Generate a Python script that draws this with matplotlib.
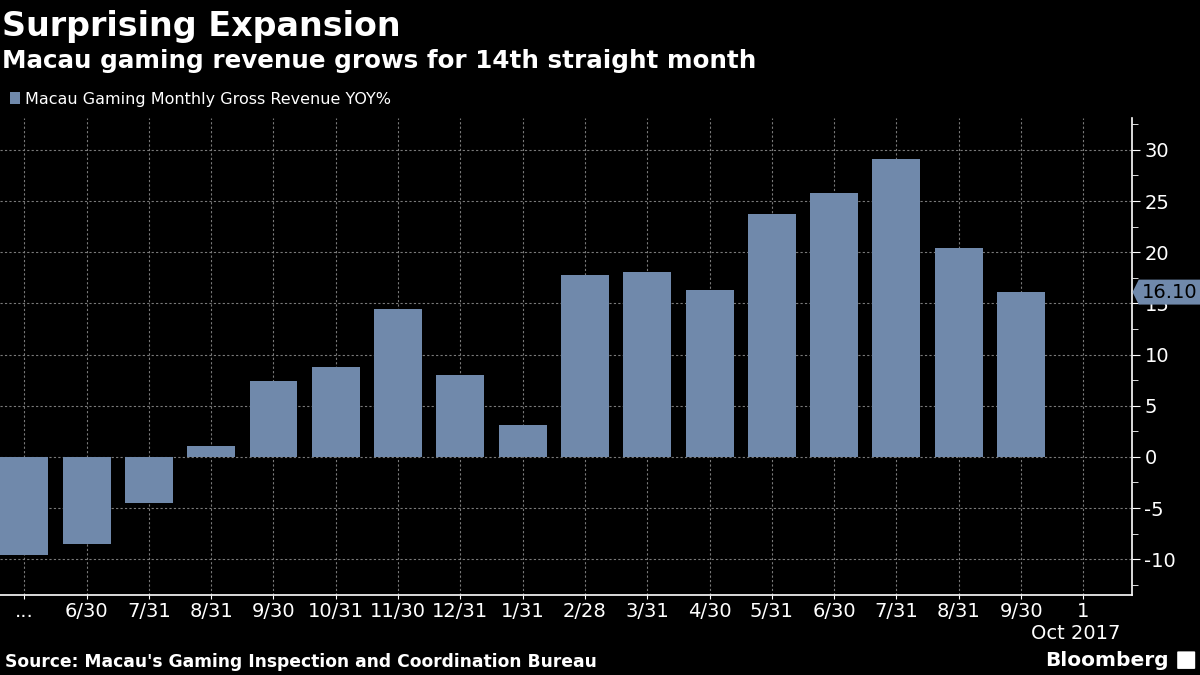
import matplotlib
matplotlib.use("Agg")
import matplotlib.pyplot as plt
from matplotlib.patches import Polygon, FancyBboxPatch
from matplotlib.transforms import blended_transform_factory
from matplotlib.ticker import MultipleLocator

plt.rcParams["axes.unicode_minus"] = False

# Macau gaming monthly gross revenue, YoY %
labels = ["...", "6/30", "7/31", "8/31", "9/30", "10/31", "11/30", "12/31", "1/31",
          "2/28", "3/31", "4/30", "5/31", "6/30", "7/31", "8/31", "9/30", "1"]
yoy = [-9.6, -8.5, -4.5, 1.1, 7.4, 8.8, 14.4, 8.0, 3.1,
       17.8, 18.1, 16.3, 23.7, 25.8, 29.1, 20.4, 16.1]
last_label = "16.10"

bar_color = "#7089ab"
grid_color = "#7a7a7a"

fig = plt.figure(figsize=(12, 6.75), dpi=100, facecolor="black")
ax = fig.add_axes([0.0, 0.1185, 0.9433, 0.7065])
ax.set_facecolor("black")

x = list(range(len(yoy)))
ax.bar(x, yoy, width=0.77, color=bar_color, zorder=2)

ax.set_xlim(-0.39, 17.78)
ax.set_ylim(-13.5, 33.1)
ax.set_xticks(range(len(labels)))
ax.set_xticklabels(labels)
ax.yaxis.set_major_locator(MultipleLocator(5))
ax.yaxis.set_minor_locator(MultipleLocator(2.5))
ax.yaxis.tick_right()

ax.grid(True, color=grid_color, linestyle=(0, (2, 2)), linewidth=0.8, zorder=0)

for s in ["top", "left"]:
    ax.spines[s].set_visible(False)
for s in ["bottom", "right"]:
    ax.spines[s].set_color("white")
    ax.spines[s].set_linewidth(1.2)

ax.tick_params(axis="x", colors="white", labelsize=14, length=3, pad=2)
ax.tick_params(axis="y", which="major", colors="white", labelsize=14, length=6, pad=3)
ax.tick_params(axis="y", which="minor", colors="white", length=4)

# value tag for the latest bar
tr = blended_transform_factory(ax.transAxes, ax.transData)
v = yoy[-1]
tag = Polygon([(1.0005, v), (1.006, v + 1.22), (1.07, v + 1.22), (1.07, v - 1.22), (1.006, v - 1.22)],
              closed=True, transform=tr, facecolor=bar_color, edgecolor="none", clip_on=False, zorder=5)
ax.add_patch(tag)
ax.text(1.009, v, last_label, transform=tr, color="black", fontsize=14,
        va="center", ha="left", zorder=6, clip_on=False)

# titles
fig.text(0.002, 0.985, "Surprising Expansion", color="white", fontsize=24,
         fontweight="bold", va="top", ha="left")
fig.text(0.002, 0.928, "Macau gaming revenue grows for 14th straight month", color="white",
         fontsize=17.7, fontweight="bold", va="top", ha="left")

# legend
fig.patches.append(plt.Rectangle((0.008, 0.846), 0.0085, 0.017, transform=fig.transFigure,
                                 facecolor=bar_color, edgecolor="none"))
fig.text(0.021, 0.853, "Macau Gaming Monthly Gross Revenue YOY%", color="white",
         fontsize=11.5, va="center", ha="left")

fig.text(0.896, 0.061, "Oct 2017", color="white", fontsize=14, ha="center", va="center")

fig.text(0.004, 0.019, "Source: Macau's Gaming Inspection and Coordination Bureau",
         color="white", fontsize=12.3, fontweight="bold", va="center", ha="left")
fig.text(0.974, 0.022, "Bloomberg", color="white", fontsize=14.5, fontweight="bold",
         va="center", ha="right")
fig.patches.append(FancyBboxPatch((0.982, 0.01), 0.013, 0.024, boxstyle="round,pad=0.001",
                                  transform=fig.transFigure, facecolor="white", edgecolor="none"))

fig.savefig("out.png", dpi=100, facecolor="black")
